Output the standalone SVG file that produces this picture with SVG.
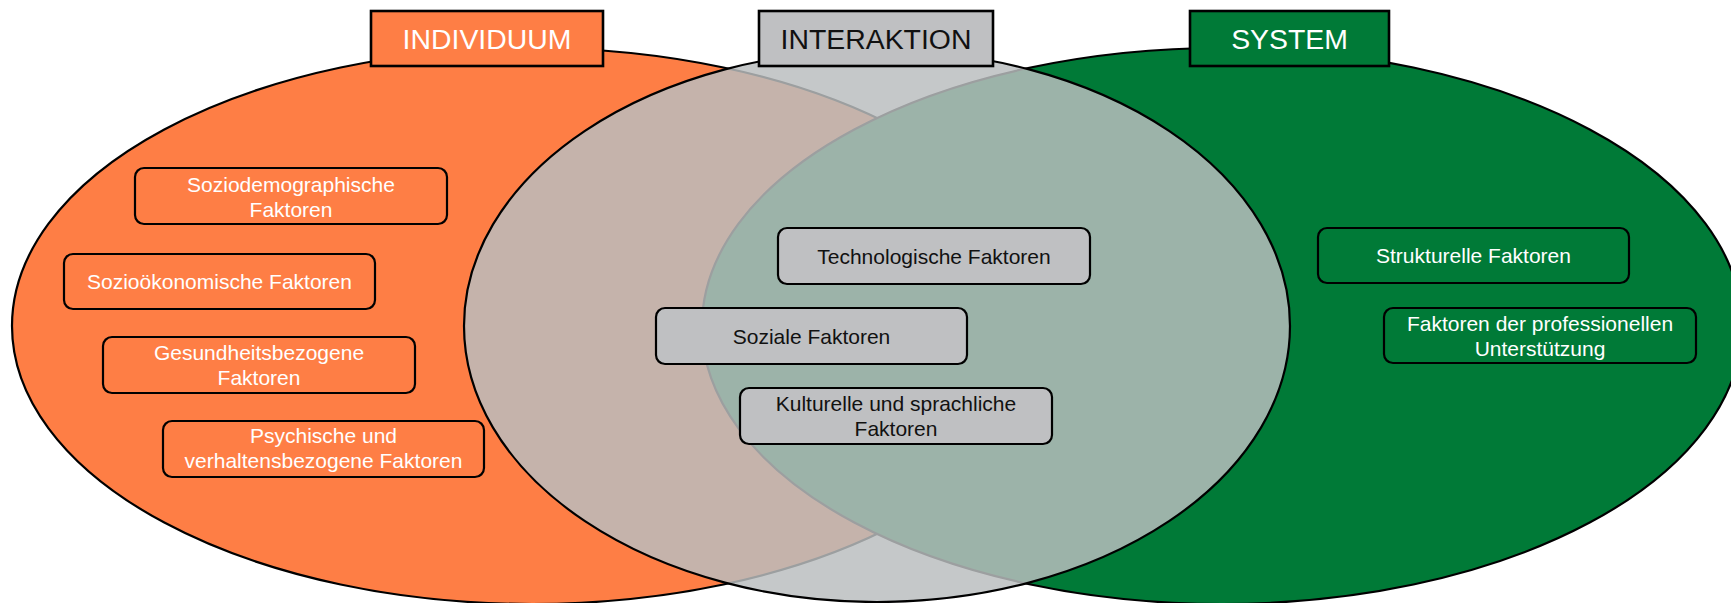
<svg xmlns="http://www.w3.org/2000/svg" width="1731" height="603" viewBox="0 0 1731 603">
  <style>
    .area { stroke: #000; stroke-width: 2.2; }
    .ind { fill: #FE7E45; }
    .sys { fill: #007A37; }
    .int { fill: #BABDBF; fill-opacity: 0.84; }
    .box { stroke: #000; stroke-width: 2.2; }
    .box-ind { fill: #FE7E45; }
    .box-int { fill: #BFC0C2; }
    .box-sys { fill: #007A37; }
    .head { stroke: #000; stroke-width: 2.6; }
    text { font-family: "Liberation Sans", Arial, sans-serif; text-anchor: middle; }
    .t { font-size: 21px; }
    .h { font-size: 28.4px; }
    .light { fill: #FFFFFF; }
    .dark { fill: #111111; }
  </style>

  <!-- three overlapping areas: individual, system, and the translucent interaction zone -->
  <g id="areas">
    <ellipse id="area-individuum" class="area ind" cx="532" cy="326" rx="520" ry="278"/>
    <ellipse id="area-system" class="area sys" cx="1222" cy="326" rx="520" ry="278"/>
    <ellipse id="area-interaktion" class="area int" cx="877" cy="326" rx="413" ry="276"/>
  </g>

  <!-- connectors (none in this figure) -->
  <g id="connectors"/>

  <!-- headings -->
  <g id="head-individuum">
    <rect class="head box-ind" x="371" y="11" width="232" height="55"/>
    <text class="h light" x="487" y="49">INDIVIDUUM</text>
  </g>
  <g id="head-interaktion">
    <rect class="head box-int" x="759" y="11" width="234" height="55"/>
    <text class="h dark" x="876" y="49">INTERAKTION</text>
  </g>
  <g id="head-system">
    <rect class="head box-sys" x="1190" y="11" width="199" height="55"/>
    <text class="h light" x="1289.5" y="49">SYSTEM</text>
  </g>

  <!-- individual factors -->
  <g id="f-soziodemographisch">
    <rect class="box box-ind" x="135" y="168" width="312" height="56" rx="9"/>
    <text class="t light" x="291" y="192">Soziodemographische</text>
    <text class="t light" x="291" y="217">Faktoren</text>
  </g>
  <g id="f-soziooekonomisch">
    <rect class="box box-ind" x="64" y="254" width="311" height="55" rx="9"/>
    <text class="t light" x="219.5" y="289">Sozioökonomische Faktoren</text>
  </g>
  <g id="f-gesundheit">
    <rect class="box box-ind" x="103" y="337" width="312" height="56" rx="9"/>
    <text class="t light" x="259" y="360">Gesundheitsbezogene</text>
    <text class="t light" x="259" y="385">Faktoren</text>
  </g>
  <g id="f-psychisch">
    <rect class="box box-ind" x="163" y="421" width="321" height="56" rx="9"/>
    <text class="t light" x="323.5" y="443">Psychische und</text>
    <text class="t light" x="323.5" y="468">verhaltensbezogene Faktoren</text>
  </g>

  <!-- interaction factors -->
  <g id="f-technologisch">
    <rect class="box box-int" x="778" y="228" width="312" height="56" rx="9"/>
    <text class="t dark" x="934" y="263.5">Technologische Faktoren</text>
  </g>
  <g id="f-sozial">
    <rect class="box box-int" x="656" y="308" width="311" height="56" rx="9"/>
    <text class="t dark" x="811.5" y="343.5">Soziale Faktoren</text>
  </g>
  <g id="f-kulturell">
    <rect class="box box-int" x="740" y="388" width="312" height="56" rx="9"/>
    <text class="t dark" x="896" y="410.5">Kulturelle und sprachliche</text>
    <text class="t dark" x="896" y="435.5">Faktoren</text>
  </g>

  <!-- system factors -->
  <g id="f-strukturell">
    <rect class="box box-sys" x="1318" y="228" width="311" height="55" rx="9"/>
    <text class="t light" x="1473.5" y="263">Strukturelle Faktoren</text>
  </g>
  <g id="f-professionell">
    <rect class="box box-sys" x="1384" y="308" width="312" height="55" rx="9"/>
    <text class="t light" x="1540" y="331">Faktoren der professionellen</text>
    <text class="t light" x="1540" y="356">Unterstützung</text>
  </g>
</svg>
